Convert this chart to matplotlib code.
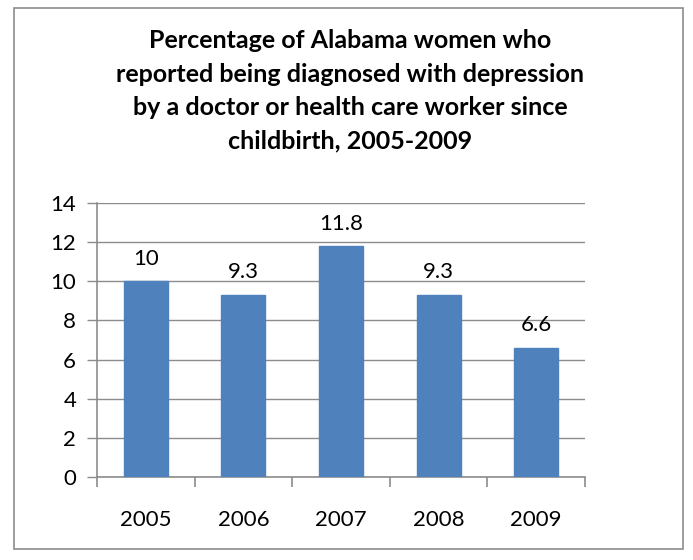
import matplotlib
matplotlib.use("Agg")
import matplotlib.pyplot as plt
from matplotlib.patches import Rectangle

years = ["2005", "2006", "2007", "2008", "2009"]
values = [10, 9.3, 11.8, 9.3, 6.6]
value_labels = ["10", "9.3", "11.8", "9.3", "6.6"]
yticks = [0, 2, 4, 6, 8, 10, 12, 14]
title = ("Percentage of Alabama women who\n"
         "reported being diagnosed with depression\n"
         "by a doctor or health care worker since\n"
         "childbirth, 2005-2009")

plt.rcParams['font.family'] = ['Lato', 'DejaVu Sans']

fig = plt.figure(figsize=(6.93, 5.6), dpi=100)
fig.patches.append(Rectangle((14/693, 1-549/560), (683-14)/693, (549-8)/560,
                             transform=fig.transFigure, fill=False,
                             edgecolor='#8c8c8c', linewidth=1.2))

ax = fig.add_axes([97/693, 1-477/560, (585-97)/693, (477-203)/560])
x = list(range(len(years)))
ax.bar(x, values, width=0.45, color='#4f81bd', edgecolor='#4f81bd', zorder=3)
ax.set_xlim(-0.5, len(years) - 0.5)
ax.set_ylim(0, 14)
ax.set_yticks(yticks)
ax.set_yticklabels([str(v) for v in yticks], fontsize=16)
ax.yaxis.grid(True, color='#8c8c8c', linewidth=1)
ax.set_axisbelow(True)
for s in ['top', 'right']:
    ax.spines[s].set_visible(False)
for s in ['left', 'bottom']:
    ax.spines[s].set_color('#8c8c8c')
    ax.spines[s].set_linewidth(1.2)
ax.tick_params(axis='y', length=7, color='#8c8c8c', width=1, pad=8)
ax.set_xticks([i - 0.5 for i in range(len(years) + 1)])
ax.set_xticklabels([])
ax.set_xticks(x, minor=True)
ax.set_xticklabels(years, minor=True, fontsize=16)
ax.tick_params(axis='x', which='major', length=7, color='#8c8c8c', width=1.2)
ax.tick_params(axis='x', which='minor', length=0, pad=24)

for xi, v, lab in zip(x, values, value_labels):
    ax.annotate(lab, (xi, v), xytext=(0, 9), textcoords='offset points',
                ha='center', va='bottom', fontsize=16)

fig.text(0.505, 1-91/560, title, ha='center', va='center', fontsize=18,
         fontweight='bold', linespacing=1.55)

fig.savefig("out.png", dpi=100)
